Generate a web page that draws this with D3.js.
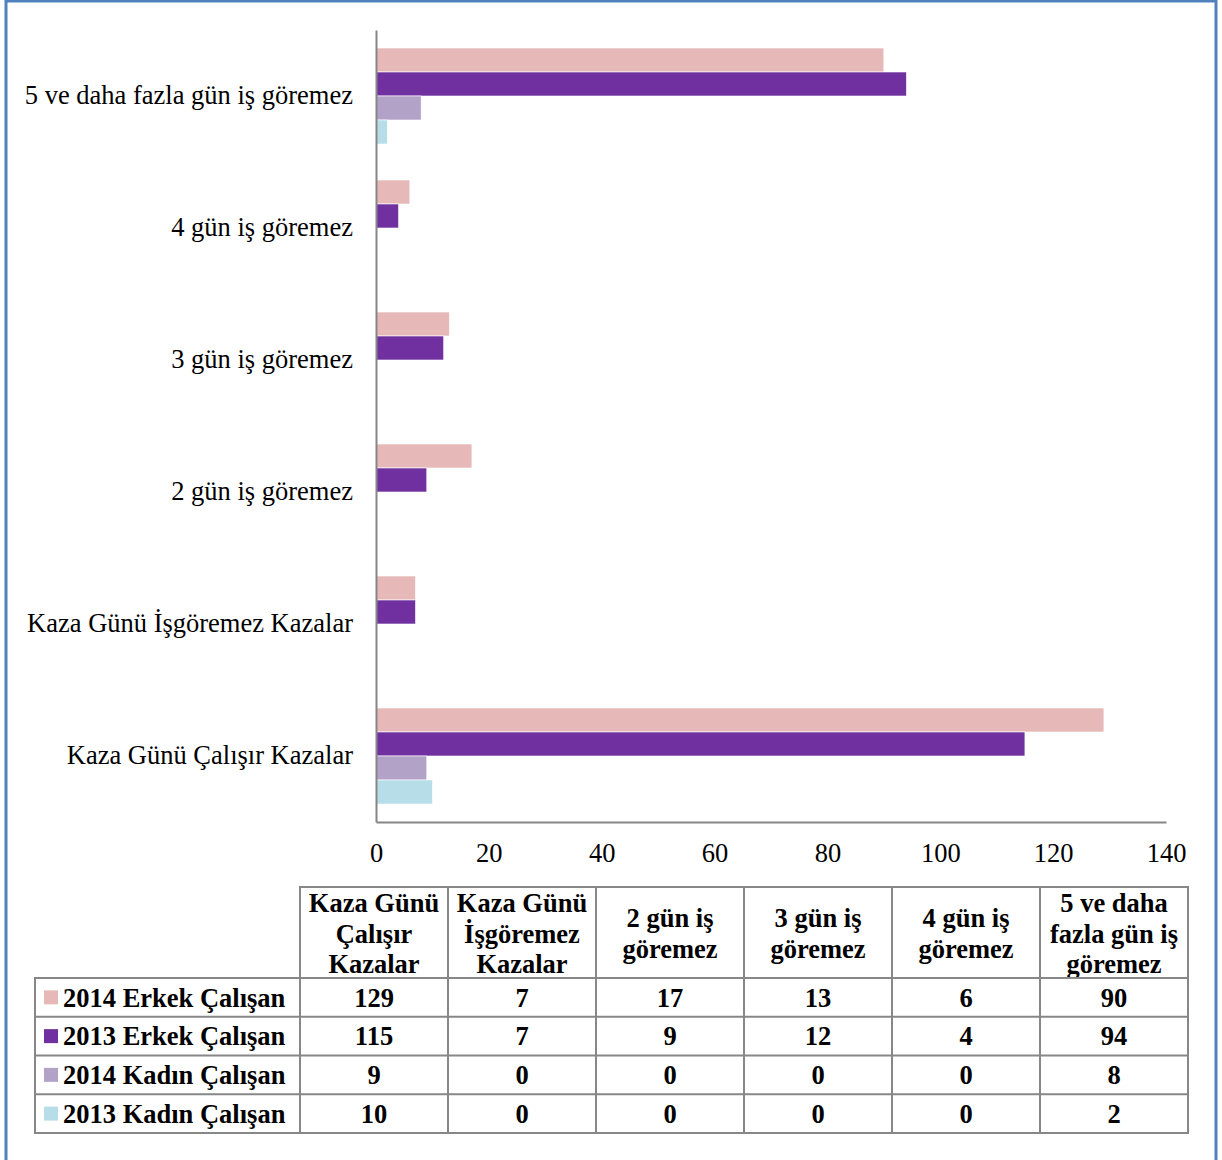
<!DOCTYPE html>
<html>
<head>
<meta charset="utf-8">
<script src="https://cdn.jsdelivr.net/npm/d3@7"></script>
<style>
  body { margin: 0; background: #fff; }
  svg { display: block; font-family: "Liberation Serif", "Times New Roman", serif; }
</style>
</head>
<body>
<svg id="chart" width="1222" height="1160"></svg>
<script>
// categories, bottom to top as in the chart
const categories = ["Kaza Günü Çalışır Kazalar", "Kaza Günü İşgöremez Kazalar", "2 gün iş göremez", "3 gün iş göremez", "4 gün iş göremez", "5 ve daha fazla gün iş göremez"];
const headerLines = [["Kaza Günü", "Çalışır", "Kazalar"], ["Kaza Günü", "İşgöremez", "Kazalar"], ["2 gün iş", "göremez"], ["3 gün iş", "göremez"], ["4 gün iş", "göremez"], ["5 ve daha", "fazla gün iş", "göremez"]];
const seriesNames = ["2014 Erkek Çalışan", "2013 Erkek Çalışan", "2014 Kadın Çalışan", "2013 Kadın Çalışan"];
const erkek2014 = [129, 7, 17, 13, 6, 90];
const erkek2013 = [115, 7, 9, 12, 4, 94];
const kadin2014 = [9, 0, 0, 0, 0, 8];
const kadin2013 = [10, 0, 0, 0, 0, 2];
const xTicks = [0, 20, 40, 60, 80, 100, 120, 140];
const colors = ["#e6b9b8", "#7030a0", "#b3a2c7", "#b7dee8"];

const seriesValues = [erkek2014, erkek2013, kadin2014, kadin2013];
const svg = d3.select("#chart");

// outer frame
svg.append("rect")
  .attr("x", 6).attr("y", 1).attr("width", 1210).attr("height", 1180)
  .attr("fill", "none").attr("stroke", "#4f81bd").attr("stroke-width", 3);

const x = d3.scaleLinear().domain([0, 140]).range([376, 1166]);
const y0 = d3.scaleBand().domain(categories.slice().reverse()).range([30, 822]);
const y1 = d3.scaleBand().domain(seriesNames).range([18, y0.bandwidth() - 18]);

const groups = svg.append("g").selectAll("g")
  .data(categories)
  .join("g")
  .attr("transform", d => `translate(0,${y0(d)})`);

groups.selectAll("rect")
  .data(c => seriesNames.map((s, k) => ({ s, k, v: seriesValues[k][categories.indexOf(c)] })))
  .join("rect")
  .attr("x", x(0))
  .attr("y", d => y1(d.s))
  .attr("height", y1.bandwidth())
  .attr("width", d => x(d.v) - x(0))
  .attr("fill", d => colors[d.k])
  .attr("stroke", d => d.v > 0 ? "#fff" : "none")
  .attr("stroke-width", 0.6);

// axes
const xAxis = svg.append("g")
  .attr("transform", "translate(0,822)")
  .call(d3.axisBottom(x).tickValues(xTicks).tickSize(0).tickPadding(21));
xAxis.select(".domain").attr("stroke", "#868686").attr("stroke-width", 2);
xAxis.selectAll("text").attr("font-size", 26.5).attr("font-family", "Liberation Serif").attr("fill", "#000");

const yAxis = svg.append("g")
  .attr("transform", `translate(${x(0)},0)`)
  .call(d3.axisLeft(y0).tickSize(0).tickPadding(23));
yAxis.select(".domain").attr("stroke", "#868686").attr("stroke-width", 2);
yAxis.selectAll("text").attr("font-size", 26.5).attr("font-family", "Liberation Serif").attr("fill", "#000");

// data table
const colX = d3.scaleBand().domain(categories).range([300, 1188]);
const rowY = d3.scaleBand().domain(seriesNames).range([978, 1133]);
const table = svg.append("g").attr("font-weight", "bold").attr("font-size", 26.5).attr("fill", "#000");
const gridColor = "#878787";

// header
table.append("rect")
  .attr("x", 300).attr("y", 887).attr("width", 888).attr("height", 91)
  .attr("fill", "none").attr("stroke", gridColor).attr("stroke-width", 2);
categories.forEach((c, i) => {
  const lines = headerLines[i];
  const cx = colX(c) + colX.bandwidth() / 2;
  const top = lines.length === 3 ? 903 : 918;
  lines.forEach((ln, j) => {
    table.append("text")
      .attr("x", cx).attr("y", top + j * 30.5)
      .attr("dy", "0.35em").attr("text-anchor", "middle")
      .text(ln);
  });
});

// body
table.append("rect")
  .attr("x", 35).attr("y", 978).attr("width", 1153).attr("height", 155)
  .attr("fill", "none").attr("stroke", gridColor).attr("stroke-width", 2);
seriesNames.slice(1).forEach(s => {
  table.append("line")
    .attr("x1", 35).attr("x2", 1188).attr("y1", rowY(s)).attr("y2", rowY(s))
    .attr("stroke", gridColor).attr("stroke-width", 2);
});
categories.forEach(c => {
  table.append("line")
    .attr("x1", colX(c)).attr("x2", colX(c)).attr("y1", 887).attr("y2", 1133)
    .attr("stroke", gridColor).attr("stroke-width", 2);
});

seriesNames.forEach((s, k) => {
  const cy = rowY(s) + rowY.bandwidth() / 2;
  table.append("rect")
    .attr("x", 44).attr("y", cy - 7).attr("width", 14).attr("height", 14)
    .attr("fill", colors[k]);
  table.append("text")
    .attr("x", 63).attr("y", cy).attr("dy", "0.35em")
    .text(s);
  categories.forEach((c, i) => {
    table.append("text")
      .attr("x", colX(c) + colX.bandwidth() / 2).attr("y", cy).attr("dy", "0.35em")
      .attr("text-anchor", "middle")
      .text(seriesValues[k][i]);
  });
});
</script>
</body>
</html>
